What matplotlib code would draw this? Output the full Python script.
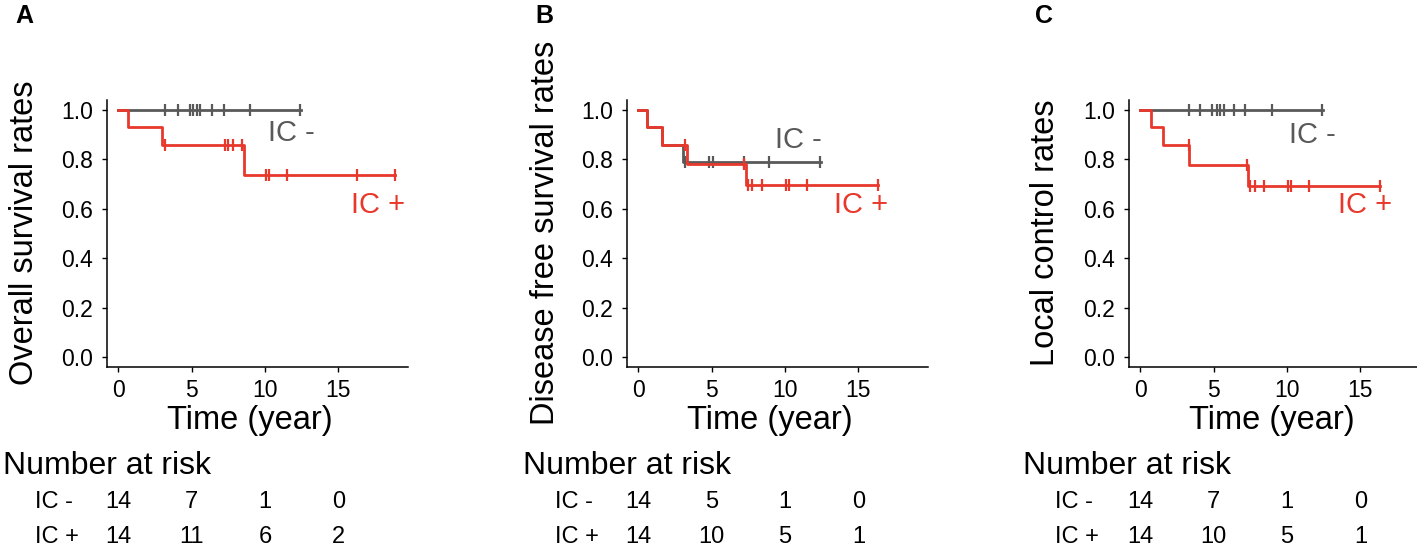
import matplotlib
matplotlib.use("Agg")
import matplotlib.pyplot as plt
import matplotlib.transforms as mtransforms
import numpy as np

plt.rcParams['font.family'] = ['Liberation Sans', 'DejaVu Sans']

W, H = 1417, 551
GRAY = '#595959'
RED = '#E8382C'

# ---- data ----
# step curves: times where the curve changes, survival value after each time
os_neg_t = [0, 12.45]
os_neg_s = [1.0, 1.0]
os_neg_cens = [3.2, 4.05, 4.9, 5.1, 5.35, 5.6, 6.4, 7.2, 9.0, 12.4]
os_pos_t = [0, 0.68, 3.0, 8.6, 18.86]
os_pos_s = [1.0, 0.929, 0.857, 0.735, 0.735]
os_pos_cens = [3.2, 7.3, 7.45, 7.8, 8.45, 10.05, 10.25, 11.5, 16.3, 18.86]

dfs_neg_t = [0, 0.57, 1.64, 3.07, 12.45]
dfs_neg_s = [1.0, 0.929, 0.857, 0.789, 0.789]
dfs_neg_cens = [3.2, 4.85, 5.1, 7.2, 8.9, 12.4]
dfs_pos_t = [0, 0.57, 1.64, 3.3, 7.32, 16.36]
dfs_pos_s = [1.0, 0.929, 0.857, 0.783, 0.698, 0.698]
dfs_pos_cens = [3.2, 7.2, 7.5, 7.75, 8.4, 10.05, 10.27, 11.5, 16.36]

lc_neg_t = [0, 12.45]
lc_neg_s = [1.0, 1.0]
lc_neg_cens = [3.3, 4.05, 4.9, 5.2, 5.4, 5.7, 6.4, 7.15, 9.0, 12.4]
lc_pos_t = [0, 0.73, 1.55, 3.34, 7.32, 16.36]
lc_pos_s = [1.0, 0.929, 0.857, 0.779, 0.693, 0.693]
lc_pos_cens = [3.3, 7.27, 7.5, 7.85, 8.45, 10.05, 10.27, 11.5, 16.36]

risk_times = [0, 5, 10, 15]
os_risk_neg = [14, 7, 1, 0]
os_risk_pos = [14, 11, 6, 2]
dfs_risk_neg = [14, 5, 1, 0]
dfs_risk_pos = [14, 10, 5, 1]
lc_risk_neg = [14, 7, 1, 0]
lc_risk_pos = [14, 10, 5, 1]

group_names = ['IC -', 'IC +']
ylabels = ['Overall survival rates', 'Disease free survival rates', 'Local control rates']
letters = ['A', 'B', 'C']

panels = [
    (os_neg_t, os_neg_s, os_neg_cens, os_pos_t, os_pos_s, os_pos_cens, os_risk_neg, os_risk_pos),
    (dfs_neg_t, dfs_neg_s, dfs_neg_cens, dfs_pos_t, dfs_pos_s, dfs_pos_cens, dfs_risk_neg, dfs_risk_pos),
    (lc_neg_t, lc_neg_s, lc_neg_cens, lc_pos_t, lc_pos_s, lc_pos_cens, lc_risk_neg, lc_risk_pos),
]

# label positions (time, rate) for the group names on each plot
neg_lab = [(11.8, 0.905), (10.9, 0.879), (11.7, 0.899)]
pos_lab = [(17.7, 0.615), (15.2, 0.615), (15.3, 0.615)]

# ---- layout (pixels) ----
panel_x0 = [0, 520, 1020]
spine_left = [107, 627, 1129]
ax_w, ax_top, ax_bot = 301, 100, 367
xmin, xmax = -0.77, 19.75
ymin, ymax = -0.04, 1.04


def step_value(t, s, c):
    i = np.searchsorted(t, c, side='right') - 1
    return np.array(s)[i]


fig = plt.figure(figsize=(W / 100, H / 100), dpi=100)

for k, (nt, ns, nc, pt, ps, pc, rn, rp) in enumerate(panels):
    left = spine_left[k]
    ax = fig.add_axes([left / W, 1 - ax_bot / H, ax_w / W, (ax_bot - ax_top) / H])
    ax.set_xlim(xmin, xmax)
    ax.set_ylim(ymin, ymax)

    ax.step(nt, ns, where='post', color=GRAY, lw=2.0)
    ax.plot(nc, step_value(nt, ns, nc), ls='none', marker='|', ms=8, mew=1.6, color=GRAY)
    ax.step(pt, ps, where='post', color=RED, lw=2.0)
    ax.plot(pc, step_value(pt, ps, pc), ls='none', marker='|', ms=8, mew=1.6, color=RED)

    ax.text(*neg_lab[k], 'IC -', color=GRAY, fontsize=21, ha='center', va='center')
    ax.text(*pos_lab[k], 'IC +', color=RED, fontsize=21, ha='center', va='center')

    ax.set_xticks(risk_times)
    ax.set_yticks([0, 0.2, 0.4, 0.6, 0.8, 1.0])
    ax.set_yticklabels(['0.0', '0.2', '0.4', '0.6', '0.8', '1.0'])
    ax.tick_params(labelsize=16.5, length=3.6, width=1.0, color='black', labelcolor='black')
    ax.tick_params(axis='x', pad=5)
    ax.tick_params(axis='y', pad=6.5)
    for sp in ['top', 'right']:
        ax.spines[sp].set_visible(False)
    for sp in ['left', 'bottom']:
        ax.spines[sp].set_linewidth(1.1)
    ax.set_facecolor('none')

    x0 = panel_x0[k]
    # axis titles
    tr = mtransforms.blended_transform_factory(ax.transData, fig.transFigure)
    ax.text(8.98, 1 - 420 / H, 'Time (year)', transform=tr, fontsize=23.5,
            ha='center', va='center')
    fig.text((x0 + 25) / W, 1 - 233 / H, ylabels[k], rotation=90, fontsize=23.5,
             ha='center', va='center')
    fig.text((x0 + 15) / W, 1 - 16 / H, letters[k], fontsize=18, fontweight='bold',
             ha='left', va='center')

    # number at risk table
    fig.text((x0 + 3) / W, 1 - 466 / H, 'Number at risk', fontsize=23,
             ha='left', va='center')
    for row, (name, vals) in enumerate(zip(group_names, [rn, rp])):
        yy = 1 - (502 + 35 * row) / H
        fig.text((x0 + 35) / W, yy, name, fontsize=17, ha='left', va='center')
        for t, v in zip(risk_times, vals):
            ax.text(t, yy, str(v), transform=tr, fontsize=17, ha='center', va='center')

fig.savefig('out.png', dpi=100)
